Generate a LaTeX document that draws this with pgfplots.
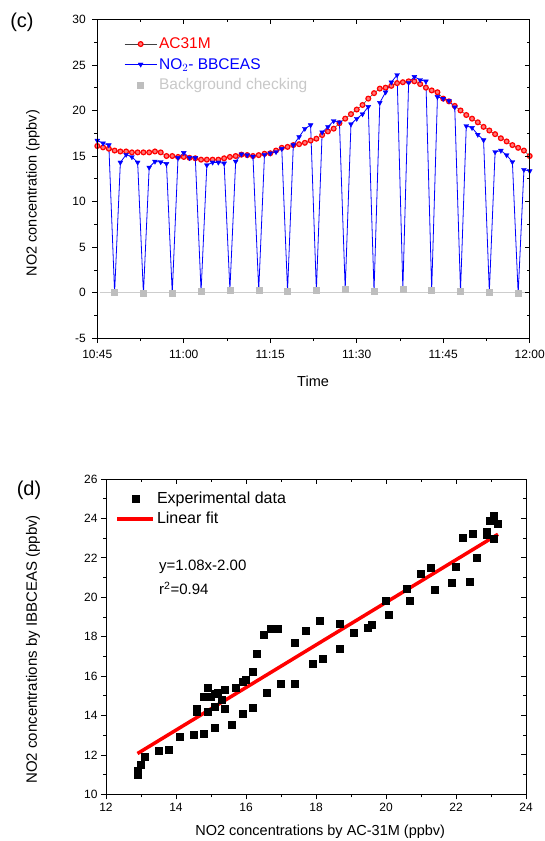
\documentclass[border=0pt]{standalone}
\usepackage{fontspec}
\setmainfont{Liberation Sans}
\usepackage{pgfplots}
\pgfplotsset{compat=1.18}
\definecolor{bggray}{RGB}{190,190,190}
\definecolor{zerogray}{RGB}{205,205,205}
\definecolor{lggray}{RGB}{200,200,200}
\definecolor{pinkfill}{RGB}{255,120,120}

\begin{document}
\begin{tikzpicture}
\useasboundingbox (0pt,0pt) rectangle (545pt,841pt);
\pgfplotsset{
 common/.style={scale only axis, axis line style={line width=0.9pt},
   /pgf/number format/assume math mode=true,
   tick label style={font=\fontsize{12}{14}\selectfont},
   major tick length=5pt, minor tick length=3pt,
   every tick/.style={black, line width=0.8pt},
 },
 topax/.style={common, width=432.4pt, height=318.9pt, at={(97.3pt,502.75pt)}, anchor=south west,
   xmin=0, xmax=75, ymin=-5, ymax=30,
   xtick={0,15,...,75}, minor x tick num=1,
   ytick={-5,0,...,30}, minor y tick num=1},
 botax/.style={common, width=420pt, height=315.2pt, at={(106pt,46.7pt)}, anchor=south west,
   xmin=12, xmax=24, ymin=10, ymax=26,
   xtick={12,14,...,24}, minor x tick num=1,
   ytick={10,12,...,26}, minor y tick num=1},
}
% ---------------- top panel (c) ----------------
\begin{axis}[topax, tick align=outside, xtick pos=left, ytick pos=left,
  xticklabels={10:45,11:00,11:15,11:30,11:45,12:00},
  xticklabel style={yshift=-3pt}, yticklabel style={xshift=-3pt},
  xlabel={Time}, ylabel={NO2 concentration (ppbv)},
  every axis x label/.style={at={(axis description cs:0.499,-0.135)}, anchor=center, font=\fontsize{14.5}{17}\selectfont},
  every axis y label/.style={at={(axis description cs:-0.149,0.455)}, anchor=center, rotate=90, font=\fontsize{14.5}{17}\selectfont},
  legend style={draw=none, fill=none, at={(0.055,0.955)}, anchor=north west,
    font=\fontsize{15.5}{18}\selectfont, row sep=4pt, cells={anchor=west}},
  legend image code/.code={\draw[mark repeat=2,mark phase=2] plot coordinates {(0pt,0pt) (16pt,0pt) (32pt,0pt)};},
]
\addplot[zerogray, line width=1pt, forget plot] coordinates {(0.5,0) (74.5,0)};
\addplot[black!75, line width=0.5pt, mark=*, mark size=2.4pt,
  mark options={draw=red, fill=pinkfill, line width=1.2pt}] coordinates {
(0,16.1) (1,15.95) (2,15.8) (3,15.6) (4,15.5) (5,15.5) (6,15.4) (7,15.4) (8,15.4) (9,15.4)
(10,15.5) (11,15.4) (12,15.0) (13,15.0) (14,14.9) (15,14.9) (16,14.8) (17,14.75) (18,14.6) (19,14.6)
(20,14.6) (21,14.6) (22,14.75) (23,14.9) (24,15.0) (25,15.15) (26,15.1) (27,15.0) (28,15.1) (29,15.25)
(30,15.3) (31,15.6) (32,15.9) (33,16.0) (34,16.2) (35,16.3) (36,16.45) (37,16.7) (38,16.9) (39,17.3)
(40,17.7) (41,18.0) (42,18.6) (43,19.1) (44,19.6) (45,20.1) (46,20.6) (47,21.3) (48,21.9) (49,22.4)
(50,22.5) (51,22.7) (52,23.0) (53,23.1) (54,23.2) (55,23.2) (56,22.9) (57,22.5) (58,22.2) (59,22.0)
(60,21.3) (61,21.0) (62,20.5) (63,20.0) (64,19.5) (65,19.1) (66,18.7) (67,18.2) (68,17.8) (69,17.4)
(70,16.95) (71,16.6) (72,16.2) (73,15.9) (74,15.6) (75,15.0)};
\addlegendentry{\textcolor{red}{AC31M}}
\addplot[blue, line width=0.8pt, mark=triangle*, mark size=2.8pt,
  mark options={rotate=180, fill=blue, draw=blue, line width=0.4pt}] coordinates {
(0,16.7) (1,16.4) (2,16.2) (3,0.0) (4,14.3) (5,15.15) (6,14.9) (7,14.3) (8,-0.1) (9,13.75)
(10,14.4) (11,14.35) (12,14.15) (13,-0.05) (14,14.8) (15,15.35) (16,14.8) (17,14.8) (18,0.15) (19,14.0)
(20,14.3) (21,14.3) (22,14.2) (23,0.3) (24,14.4) (25,15.2) (26,15.1) (27,14.95) (28,0.25) (29,15.15)
(30,15.3) (31,15.45) (32,15.8) (33,0.2) (34,16.2) (35,17.1) (36,18.0) (37,18.4) (38,0.25) (39,17.6)
(40,18.2) (41,18.85) (42,18.7) (43,0.37) (44,18.5) (45,19.1) (46,19.6) (47,20.4) (48,0.2) (49,20.85)
(50,22.0) (51,23.1) (52,23.9) (53,0.4) (54,23.05) (55,23.7) (56,23.35) (57,23.2) (58,0.3) (59,21.5)
(60,21.3) (61,21.05) (62,20.35) (63,0.2) (64,18.3) (65,18.1) (66,17.35) (67,16.75) (68,0.1) (69,15.45)
(70,15.6) (71,15.1) (72,14.35) (73,-0.1) (74,13.5) (75,13.35)};
\addlegendentry{\textcolor{blue}{NO$_2$- BBCEAS}}
\addplot[only marks, mark=square*, mark size=3pt, mark options={fill=bggray, draw=bggray}] coordinates {
(3,0.0) (8,-0.1) (13,-0.05) (18,0.15) (23,0.3) (28,0.25) (33,0.2) (38,0.25)
(43,0.37) (48,0.2) (53,0.4) (58,0.3) (63,0.2) (68,0.1) (73,-0.1)};
\addlegendentry{\textcolor{lggray}{Background checking}}
\end{axis}
\begin{axis}[topax, tick align=inside, xtick pos=right, ytick pos=right,
  xticklabels={}, yticklabels={}]
\end{axis}
\node[font=\fontsize{20}{24}\selectfont] at (22pt,819pt) {(c)};

% ---------------- bottom panel (d) ----------------
\begin{axis}[botax, tick align=outside, xtick pos=left, ytick pos=left,
  xlabel={NO2 concentrations by AC-31M (ppbv)},
  ylabel={NO2 concentrations by IBBCEAS (ppbv)},
  every axis x label/.style={at={(axis description cs:0.51,-0.12)}, anchor=center, font=\fontsize{14.5}{17}\selectfont},
  every axis y label/.style={at={(axis description cs:-0.174,0.46)}, anchor=center, rotate=90, font=\fontsize{15}{17}\selectfont},
  legend style={draw=none, fill=none, at={(0.015,0.972)}, anchor=north west,
    font=\fontsize{16}{19}\selectfont, row sep=3pt, cells={anchor=west}},
  legend image code/.code={\draw plot coordinates {(0pt,0pt) (36pt,0pt)};},
]
\addplot[only marks, mark=square*, mark size=3.5pt, mark options={fill=black, draw=black},
  legend image code/.code={\draw[only marks] plot coordinates {(18pt,0pt)};}] coordinates {
(12.9,11.0) (12.9,11.2) (12.99,11.5) (13.1,11.93) (13.5,12.2) (13.8,12.25) (14.1,12.9)
(14.5,13.05) (14.8,13.08) (15.1,13.4) (15.6,13.55) (15.9,14.1) (16.2,14.4) (16.6,15.18)
(17.0,15.63) (17.4,15.6) (17.9,16.65) (18.2,16.86) (14.6,14.36) (14.6,14.2) (14.8,14.96)
(14.9,15.4) (14.9,14.2) (15.0,14.96) (15.1,14.45) (15.1,15.1) (15.2,15.15) (15.3,14.8)
(15.4,14.36) (15.4,15.33) (15.7,15.4) (15.9,15.73) (16.0,15.8) (16.2,16.23) (16.3,17.16)
(16.5,18.1) (16.7,18.43) (16.9,18.43) (17.4,17.7) (17.7,18.29) (18.1,18.83) (18.69,18.68)
(18.69,17.38) (19.09,18.2) (19.49,18.47) (19.58,18.6) (19.98,19.83) (20.08,19.1) (20.58,20.44)
(20.69,19.81) (20.99,21.2) (21.28,21.52) (21.38,20.37) (21.89,20.74) (21.98,21.53) (22.18,23.03)
(22.38,20.81) (22.47,23.25) (22.58,22.0) (22.88,23.33) (22.88,23.16) (22.97,23.89) (23.07,24.14)
(23.07,22.96) (23.18,23.74)};
\addlegendentry{Experimental data}
\addplot[red, line width=3.5pt] coordinates {(12.9,12.07) (23.2,23.2)};
\addlegendentry{Linear fit}
\node[anchor=west, font=\fontsize{15}{17}\selectfont] at (axis cs:13.42,21.54) {y=1.08x-2.00};
\node[anchor=west, font=\fontsize{15}{17}\selectfont] at (axis cs:13.42,20.47) {r\textsuperscript{2}=0.94};
\end{axis}
\begin{axis}[botax, tick align=inside, xtick pos=right, ytick pos=right,
  xticklabels={}, yticklabels={}]
\end{axis}
\node[font=\fontsize{20}{24}\selectfont] at (29pt,351pt) {(d)};
\end{tikzpicture}
\end{document}
